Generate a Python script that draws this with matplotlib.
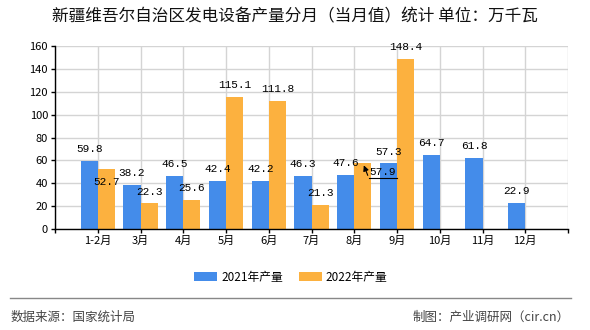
import matplotlib
matplotlib.use("Agg")
import matplotlib.pyplot as plt
import numpy as np

plt.rcParams['font.family'] = ['Noto Sans CJK SC', 'DejaVu Sans']

categories = ['1-2月', '3月', '4月', '5月', '6月', '7月', '8月', '9月', '10月', '11月', '12月']
values_2021 = [59.8, 38.2, 46.5, 42.4, 42.2, 46.3, 47.6, 57.3, 64.7, 61.8, 22.9]
values_2022 = [52.7, 22.3, 25.6, 115.1, 111.8, 21.3, 57.9, 148.4, None, None, None]
series_names = ['2021年产量', '2022年产量']
yticks = [0, 20, 40, 60, 80, 100, 120, 140, 160]

title = '新疆维吾尔自治区发电设备产量分月（当月值）统计 单位：万千瓦'
source = '数据来源：国家统计局'
credit = '制图：产业调研网（cir.cn）'

c_blue = '#448CEA'
c_orange = '#FCB13F'

fig = plt.figure(figsize=(5.9, 3.3), dpi=100)
ax = fig.add_axes([55/590, 1-229/330, (568-55)/590, (229-46)/330])

x = np.arange(1, len(categories) + 1)
w = 0.4
b1 = ax.bar(x - w/2, values_2021, width=w, color=c_blue, label=series_names[0], zorder=3)
x2 = [xi for xi, v in zip(x, values_2022) if v is not None]
v2 = [v for v in values_2022 if v is not None]
b2 = ax.bar(np.array(x2) + w/2, v2, width=w, color=c_orange, label=series_names[1], zorder=3)

ax.set_xlim(0, 12)
ax.set_ylim(0, 160)
ax.set_yticks(yticks)
ax.set_yticklabels([str(t) for t in yticks], fontsize=8)
ax.set_xticks(range(0, 13))
ax.set_xticklabels([''] + categories + [''], fontsize=8)
ax.tick_params(axis='both', length=3, width=1, color='black', pad=2)
ax.grid(True, color='#d4d4d4', linewidth=1, zorder=0)
for s in ['top', 'right']:
    ax.spines[s].set_visible(False)
for s in ['left', 'bottom']:
    ax.spines[s].set_color('black')
    ax.spines[s].set_linewidth(1)
    ax.spines[s].set_zorder(4)

lab_font = dict(fontsize=8, family='Liberation Mono', ha='center', va='bottom', zorder=5)
for xi, v in zip(x, values_2021):
    ax.annotate(f'{v}', (xi - w/2, v), xytext=(0, 5), textcoords='offset points', **lab_font)
for xi, v in zip(x2, v2):
    if v == 57.9:
        continue
    dy = 5
    if v == 52.7:
        dy = -13
    ax.annotate(f'{v}', (xi + w/2, v), xytext=(0, dy), textcoords='offset points', **lab_font)

# special leader-line label for 8月 2022
i8 = categories.index('8月')
v8 = values_2022[i8]
ax.annotate('', xy=(x[i8] + w/2, v8), xytext=(x[i8] + 0.34, 44.6),
            arrowprops=dict(arrowstyle='-|>', color='black', lw=0.8, mutation_scale=8), zorder=6)
ax.plot([x[i8] + 0.34, x[i8] + 1.01], [44.6, 44.6], color='black', lw=0.8, zorder=6)
ax.text(x[i8] + 0.66, 45.5, f'{v8}', fontsize=8, family='Liberation Mono', ha='center', va='bottom', zorder=6)

fig.text(0.5, 1 - 17/330, title, ha='center', va='center', fontsize=12, color='#111111')

leg = fig.legend(handles=[b1, b2], labels=series_names, loc='center', bbox_to_anchor=(291/590, 1 - 277/330),
                 ncol=2, frameon=False, fontsize=8.5, handlelength=1.9, handleheight=0.75, columnspacing=1.4,
                 handletextpad=0.35)

fig.add_artist(plt.Line2D([10/590, 571/590], [1 - 298/330, 1 - 298/330], color='#888888', lw=1))
fig.text(11/590, 1 - 317/330, source, ha='left', va='center', fontsize=9, color='#444444')
fig.text(570/590, 1 - 317/330, credit, ha='right', va='center', fontsize=9, color='#444444')

fig.savefig('out.png', dpi=100)
